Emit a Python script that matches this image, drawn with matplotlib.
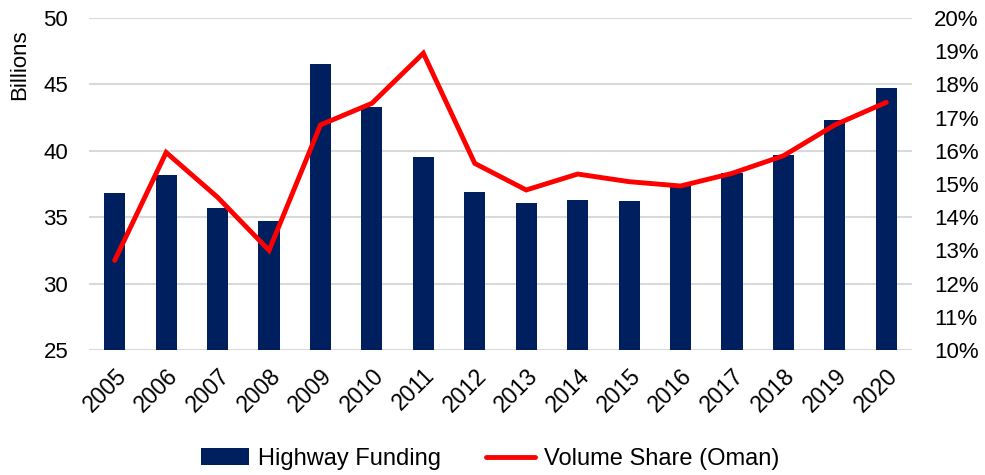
import matplotlib
matplotlib.use('Agg')
import matplotlib.pyplot as plt
from matplotlib.ticker import FuncFormatter
import numpy as np

plt.rcParams['font.family'] = ['Liberation Sans', 'DejaVu Sans']

years = ['2005', '2006', '2007', '2008', '2009', '2010', '2011', '2012',
         '2013', '2014', '2015', '2016', '2017', '2018', '2019', '2020']
funding = [36.8, 38.2, 35.7, 34.7, 46.5, 43.3, 39.5, 36.9,
           36.1, 36.3, 36.2, 37.4, 38.3, 39.7, 42.3, 44.7]
share = [12.7, 15.95, 14.6, 13.0, 16.78, 17.43, 18.94, 15.62,
         14.82, 15.3, 15.07, 14.94, 15.32, 15.85, 16.78, 17.46]

navy = '#001f5f'
red = '#ff0000'

fig = plt.figure(figsize=(9.85, 4.75), dpi=100)
ax = fig.add_axes([89 / 985, 1 - 350 / 475, (912 - 89) / 985, (350 - 18) / 475])
x = np.arange(len(years))

bars = ax.bar(x, funding, width=0.41, color=navy, label='Highway Funding', zorder=2)
ax.set_ylim(25, 50)
ax.set_xlim(-0.5, len(years) - 0.5)
ax.set_yticks([25, 30, 35, 40, 45, 50])
ax.yaxis.grid(True, color='#d9d9d9', linewidth=1.5, zorder=0)
ax.set_axisbelow(True)
for s in ax.spines.values():
    s.set_visible(False)
ax.tick_params(axis='both', length=0, labelsize=16)
ax.tick_params(axis='y', pad=15)
ax.set_xticks(x)
ax.set_xticklabels(years, rotation=45, ha='right', rotation_mode='anchor', fontsize=16.5)
ax.tick_params(axis='x', pad=10)
ax.set_ylabel('Billions', fontsize=16)
ax.yaxis.set_label_coords(-0.072, 0.86)

ax2 = ax.twinx()
line, = ax2.plot(x, share, color=red, linewidth=3.5, label='Volume Share (Oman)',
                 solid_capstyle='round', solid_joinstyle='miter', zorder=3)
ax2.set_ylim(10, 20)
ax2.set_yticks(range(10, 21))
ax2.yaxis.set_major_formatter(FuncFormatter(lambda v, p: '{:.0f}%'.format(v)))
for s in ax2.spines.values():
    s.set_visible(False)
ax2.tick_params(axis='y', length=0, labelsize=16, pad=16)

fig.legend([bars, line], ['Highway Funding', 'Volume Share (Oman)'],
           loc='center', bbox_to_anchor=(490 / 985, 1 - 459 / 475), ncol=2,
           frameon=False, fontsize=17, handlelength=2.05, handletextpad=0.38,
           columnspacing=1.9)

fig.savefig('out.png', dpi=100)
